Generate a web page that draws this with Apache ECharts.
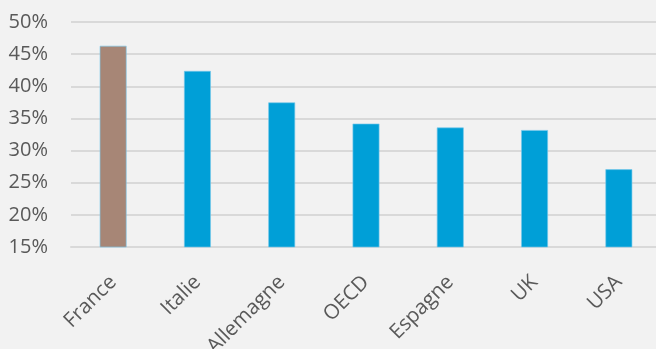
<!DOCTYPE html>
<html>
<head>
<meta charset="utf-8">
<script src="https://cdn.jsdelivr.net/npm/echarts@6/dist/echarts.min.js"></script>
<style>
html,body{margin:0;padding:0;background:#F2F2F2;}
#c{width:656px;height:349px;}
</style>
</head>
<body>
<div id="c"></div>
<script>
const categories = ['France', 'Italie', 'Allemagne', 'OECD', 'Espagne', 'UK', 'USA'];
const values = [46.3, 42.4, 37.5, 34.2, 33.6, 33.2, 27.1];
const barColors = ['#A78676', '#009FD7', '#009FD7', '#009FD7', '#009FD7', '#009FD7', '#009FD7'];
const yMin = 15, yMax = 50, yStep = 5;

const chart = echarts.init(document.getElementById('c'));
chart.setOption({
  backgroundColor: '#F2F2F2',
  animation: false,
  grid: { left: 71, top: 22, width: 590, height: 225, containLabel: false, outerBoundsMode: 'none' },
  xAxis: {
    type: 'category',
    data: categories,
    axisLine: { show: true, lineStyle: { color: '#D9D9D9', width: 2 } },
    axisTick: { show: false },
    axisLabel: {
      rotate: 45, color: '#595959', fontSize: 20.5, fontFamily: 'Open Sans', margin: 32
    }
  },
  yAxis: {
    type: 'value',
    min: yMin, max: yMax, interval: yStep,
    axisLine: { show: false },
    axisTick: { show: false },
    splitLine: { lineStyle: { color: '#D9D9D9', width: 2 } },
    axisLabel: {
      formatter: v => v + '%', color: '#595959', fontSize: 20, fontFamily: 'Open Sans', margin: 23
    }
  },
  series: [{
    type: 'bar',
    data: values.map((v, i) => ({ value: v, itemStyle: { color: barColors[i] } })),
    barWidth: 27,
    itemStyle: { borderColor: 'rgba(120,200,235,0.8)', borderWidth: 0.8 }
  }]
});
</script>
</body>
</html>
